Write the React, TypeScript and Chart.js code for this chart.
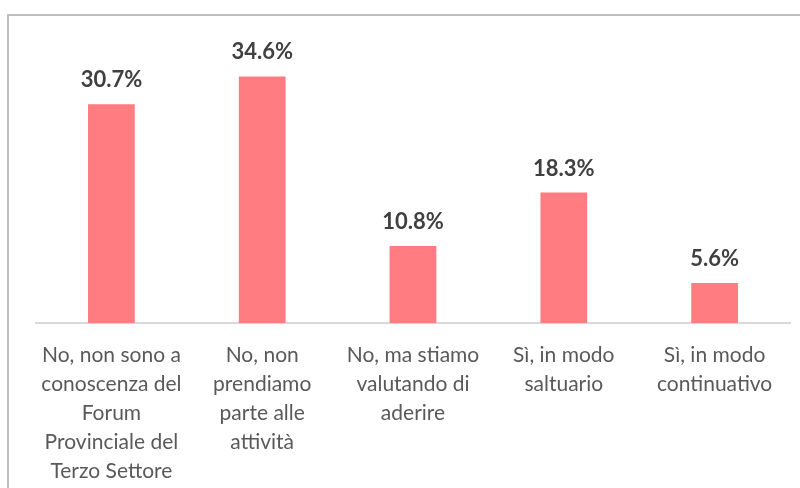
import React, { useEffect, useRef } from "react";
import { Chart, registerables } from "chart.js";

Chart.register(...registerables);

const categories: string[][] = [
  ["No, non sono a", "conoscenza del", "Forum", "Provinciale del", "Terzo Settore"],
  ["No, non", "prendiamo", "parte alle", "attività"],
  ["No, ma stiamo", "valutando di", "aderire"],
  ["Sì, in modo", "saltuario"],
  ["Sì, in modo", "continuativo"],
];
const values: number[] = [30.7, 34.6, 10.8, 18.3, 5.6];
const valueLabels: string[] = ["30.7%", "34.6%", "10.8%", "18.3%", "5.6%"];

const FONT = "Lato, 'Noto Sans', sans-serif";

const valueLabelPlugin = {
  id: "valueLabels",
  afterDatasetsDraw(chart: any) {
    const ctx = chart.ctx;
    const meta = chart.getDatasetMeta(0);
    ctx.save();
    ctx.font = `bold 22px ${FONT}`;
    ctx.fillStyle = "#404040";
    ctx.textAlign = "center";
    ctx.textBaseline = "alphabetic";
    meta.data.forEach((bar: any, i: number) => {
      ctx.fillText(valueLabels[i], bar.x, bar.y - 17);
    });
    ctx.restore();
  },
};

export default function App() {
  const ref = useRef<HTMLCanvasElement>(null);
  useEffect(() => {
    document.body.style.margin = "0";
    const chart = new Chart(ref.current!, {
      type: "bar",
      data: {
        labels: categories,
        datasets: [
          {
            data: values,
            backgroundColor: "#FF7C80",
            borderWidth: 0,
            categoryPercentage: 1,
            barPercentage: 0.31,
          },
        ],
      },
      options: {
        responsive: false,
        animation: false,
        maintainAspectRatio: false,
        layout: { padding: { left: 36, right: 10, top: 38, bottom: 0 } },
        plugins: { legend: { display: false }, tooltip: { enabled: false } },
        scales: {
          y: { display: false, min: 0, max: 40 },
          x: {
            grid: { display: false },
            border: { display: true, color: "#D9D9D9", width: 2 },
            ticks: {
              color: "#595959",
              font: { family: FONT, size: 21, lineHeight: 1.38 },
              maxRotation: 0,
              autoSkip: false,
              padding: 10,
            },
            afterFit: (scale: any) => {
              scale.height = 165;
            },
          },
        },
      },
      plugins: [valueLabelPlugin],
    });
    return () => chart.destroy();
  }, []);
  return (
    <div style={{ position: "relative", width: 800, height: 488, overflow: "hidden", background: "#fff" }}>
      <canvas ref={ref} width={800} height={488} style={{ position: "absolute", left: 0, top: 0 }} />
      <div
        style={{
          position: "absolute",
          left: 7,
          top: 14,
          width: 900,
          height: 600,
          borderLeft: "2px solid #BFBFBF",
          borderTop: "2px solid #BFBFBF",
          pointerEvents: "none",
        }}
      />
    </div>
  );
}
